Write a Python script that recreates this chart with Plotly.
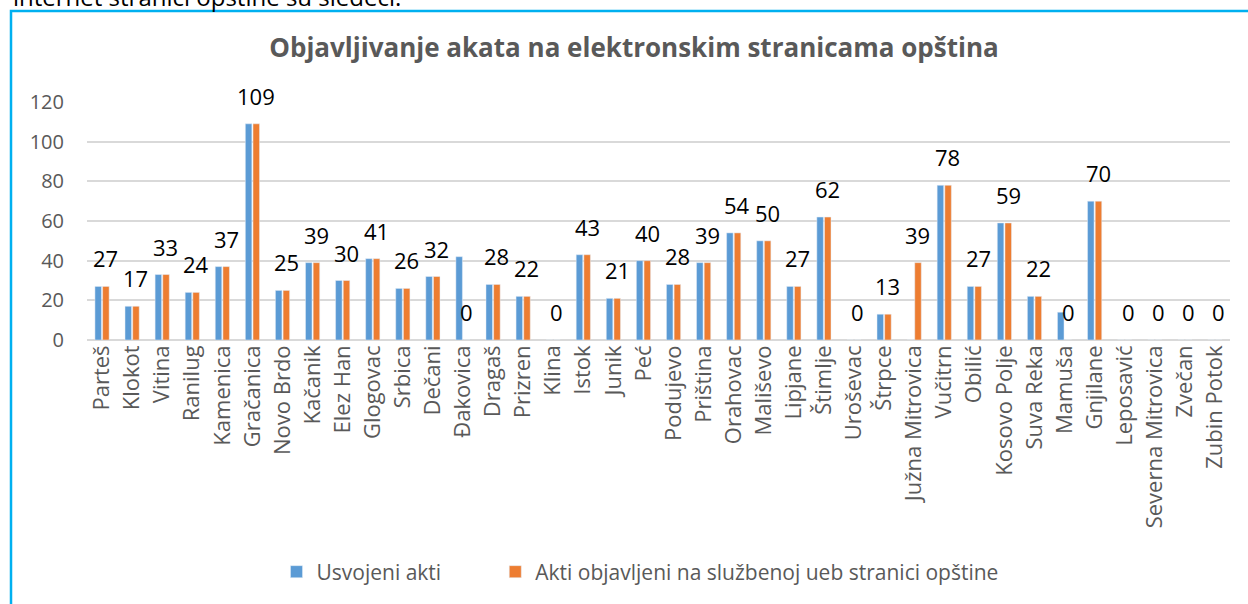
import plotly.graph_objects as go

# Municipalities and values
opstine = [
    'Parteš', 'Klokot', 'Vitina', 'Ranilug', 'Kamenica', 'Gračanica', 'Novo Brdo',
    'Kačanik', 'Elez Han', 'Glogovac', 'Srbica', 'Dečani', 'Đakovica', 'Dragaš',
    'Prizren', 'Klina', 'Istok', 'Junik', 'Peć', 'Podujevo', 'Priština', 'Orahovac',
    'Mališevo', 'Lipjane', 'Štimlje', 'Uroševac', 'Štrpce', 'Južna Mitrovica',
    'Vučitrn', 'Obilić', 'Kosovo Polje', 'Suva Reka', 'Mamuša', 'Gnjilane',
    'Leposavić', 'Severna Mitrovica', 'Zvečan', 'Zubin Potok',
]
usvojeni = [27, 17, 33, 24, 37, 109, 25, 39, 30, 41, 26, 32, 42, 28, 22, 0, 43, 21,
            40, 28, 39, 54, 50, 27, 62, 0, 13, 0, 78, 27, 59, 22, 14, 70, 0, 0, 0, 0]
objavljeni = [27, 17, 33, 24, 37, 109, 25, 39, 30, 41, 26, 32, 0, 28, 22, 0, 43, 21,
              40, 28, 39, 54, 50, 27, 62, 0, 13, 39, 78, 27, 59, 22, 0, 70, 0, 0, 0, 0]
y_ticks = [0, 20, 40, 60, 80, 100, 120]

FONT = 'Open Sans'
GRAY = '#595959'
BLUE = '#5B9BD5'
ORANGE = '#ED7D31'

# plot area in pixels (used for paper coords of frame / notes)
L, R, T, B = 87, 18, 102, 264
W, H = 1248, 604
PW, PH = W - L - R, H - T - B


def px(x):
    return (x - L) / PW


def py(y):
    return (H - B - y) / PH


fig = go.Figure()

# trailing nbsp's widen the first legend entry (Excel leaves a big gap)
fig.add_trace(go.Bar(
    x=opstine, y=usvojeni, name='Usvojeni akti' + '\u00a0' * 9,
    marker=dict(color=BLUE),
    hovertemplate='%{x}: %{y}<extra>Usvojeni akti</extra>',
))
fig.add_trace(go.Bar(
    x=opstine, y=objavljeni, name='Akti objavljeni na službenoj ueb stranici opštine',
    marker=dict(color=ORANGE),
    hoverinfo='x+y',
))

# data labels sit over the orange bar, a bit above its top (like Excel)
labels = []
for name, val in zip(opstine, objavljeni):
    labels.append(dict(
        x=name, y=val, xref='x', yref='y', text=str(val),
        showarrow=False, xanchor='center', yanchor='bottom',
        xshift=3.7, yshift=11,
        font=dict(family=FONT, size=22, color='black'),
    ))

labels.append(dict(
    text='internet stranici opštine su sledeći.',
    xref='paper', yref='paper', x=px(11), y=py(-4),
    xanchor='left', yanchor='middle', showarrow=False,
    font=dict(family=FONT, size=24, color='black'),
))

fig.update_layout(
    width=W, height=H,
    margin=dict(l=L, r=R, t=T, b=B, autoexpand=False),
    paper_bgcolor='white', plot_bgcolor='white',
    barmode='group', bargap=0.49, bargroupgap=0.15,
    font=dict(family=FONT, color=GRAY),
    title=dict(
        text='<b>Objavljivanje akata na elektronskim stranicama opština</b>',
        x=634 / W, xanchor='center', y=1 - 48 / H, yanchor='middle',
        font=dict(family=FONT, size=26, color=GRAY),
    ),
    legend=dict(
        orientation='h', x=px(640), xanchor='center', y=py(572), yanchor='middle',
        font=dict(family=FONT, size=21, color=GRAY),
        traceorder='normal',
    ),
    xaxis=dict(
        tickangle=-90, tickfont=dict(family=FONT, size=22, color=GRAY),
        showline=False, showgrid=False, ticks='',
    ),
    yaxis=dict(
        range=[0, 120], tickvals=y_ticks,
        tickfont=dict(family=FONT, size=20, color=GRAY),
        gridcolor='#D9D9D9', gridwidth=1.5,
        zeroline=True, zerolinecolor='#D9D9D9', zerolinewidth=1.5,
        showline=False, ticks='', ticklabelstandoff=22,
    ),
    shapes=[dict(
        type='path', xref='paper', yref='paper',
        path=f'M {px(11)} {py(620)} L {px(11)} {py(11)} L {px(1270)} {py(11)}',
        line=dict(color='#00B0F0', width=2.5),
    )],
    annotations=labels,
)

# drop the default page margin so the figure sits at the window's corner
fig.write_html('out.html', config={'displayModeBar': False},
               post_script="document.body.style.margin='0';")
